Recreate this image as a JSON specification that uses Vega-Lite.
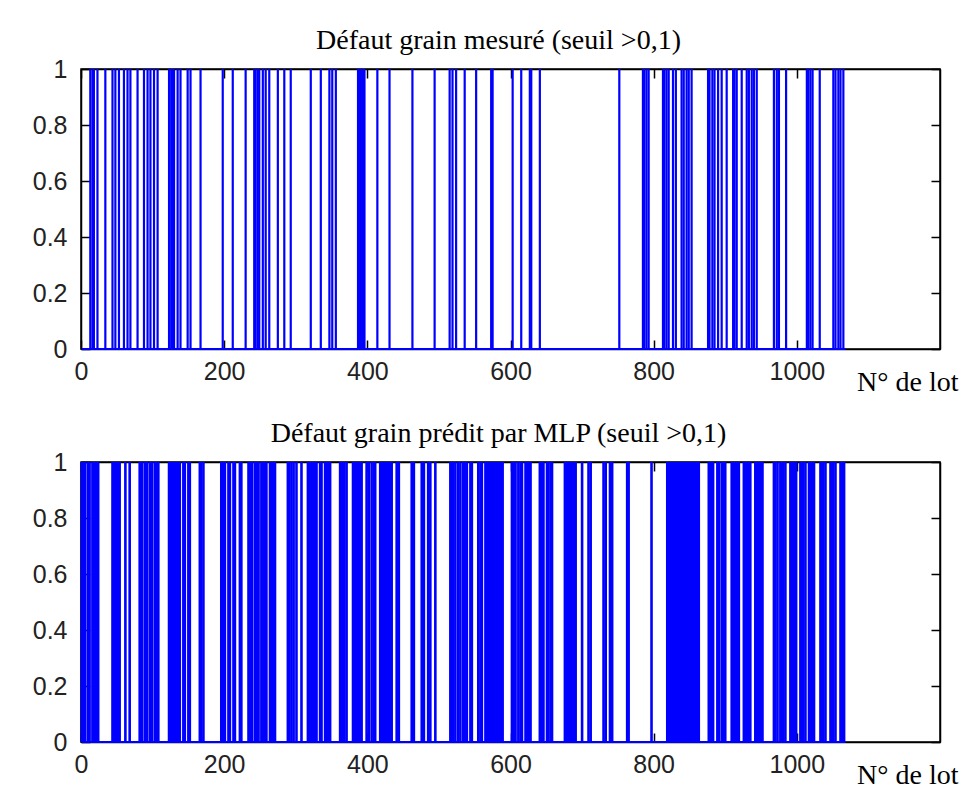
{
  "$schema": "https://vega.github.io/schema/vega-lite/v6.json",
  "padding": {"left": 31, "top": 26, "right": 5, "bottom": 5},
  "background": "white",
  "config": {
    "view": {"stroke": "#000", "strokeWidth": 1.5},
    "axis": {"domainColor": "#000", "domainWidth": 1.5, "tickColor": "#000", "tickWidth": 1.5, "grid": false, "labelColor": "#222", "labelFont": "Liberation Sans", "labelFontSize": 25, "labelFlush": false, "labelOverlap": false},
    "title": {"font": "Liberation Serif", "fontSize": 28, "fontWeight": "normal", "color": "#000", "anchor": "middle", "frame": "group", "baseline": "alphabetic", "offset": 2, "dx": -12}
  },
  "datasets": {
    "mesure": [{"lot":13},{"lot":16},{"lot":18},{"lot":23},{"lot":34},{"lot":44},{"lot":48},{"lot":53},{"lot":60},{"lot":65},{"lot":69},{"lot":79},{"lot":88},{"lot":93},{"lot":97},{"lot":102},{"lot":107},{"lot":123},{"lot":126},{"lot":128},{"lot":130},{"lot":135},{"lot":139},{"lot":149},{"lot":153},{"lot":167},{"lot":198},{"lot":212},{"lot":230},{"lot":242},{"lot":244},{"lot":247},{"lot":249},{"lot":254},{"lot":258},{"lot":263},{"lot":275},{"lot":284},{"lot":293},{"lot":321},{"lot":335},{"lot":347},{"lot":351},{"lot":356},{"lot":387},{"lot":389},{"lot":391},{"lot":394},{"lot":396},{"lot":414},{"lot":431},{"lot":463},{"lot":494},{"lot":515},{"lot":519},{"lot":524},{"lot":536},{"lot":552},{"lot":573},{"lot":575},{"lot":603},{"lot":615},{"lot":627},{"lot":629},{"lot":641},{"lot":752},{"lot":785},{"lot":787},{"lot":790},{"lot":793},{"lot":813},{"lot":815},{"lot":818},{"lot":821},{"lot":827},{"lot":831},{"lot":839},{"lot":842},{"lot":846},{"lot":849},{"lot":853},{"lot":876},{"lot":878},{"lot":882},{"lot":885},{"lot":890},{"lot":895},{"lot":902},{"lot":911},{"lot":913},{"lot":916},{"lot":923},{"lot":930},{"lot":933},{"lot":937},{"lot":940},{"lot":944},{"lot":968},{"lot":972},{"lot":975},{"lot":985},{"lot":1014},{"lot":1016},{"lot":1019},{"lot":1022},{"lot":1032},{"lot":1051},{"lot":1054},{"lot":1058},{"lot":1061},{"lot":1065}],
    "predit": [{"lot":1},{"lot":2},{"lot":4},{"lot":6},{"lot":10},{"lot":12},{"lot":16},{"lot":17},{"lot":19},{"lot":21},{"lot":23},{"lot":24},{"lot":44},{"lot":46},{"lot":48},{"lot":50},{"lot":52},{"lot":54},{"lot":62},{"lot":68},{"lot":82},{"lot":85},{"lot":89},{"lot":92},{"lot":96},{"lot":99},{"lot":103},{"lot":106},{"lot":108},{"lot":123},{"lot":124},{"lot":126},{"lot":128},{"lot":129},{"lot":131},{"lot":133},{"lot":135},{"lot":136},{"lot":138},{"lot":143},{"lot":145},{"lot":150},{"lot":152},{"lot":166},{"lot":168},{"lot":171},{"lot":196},{"lot":198},{"lot":201},{"lot":206},{"lot":208},{"lot":213},{"lot":215},{"lot":222},{"lot":224},{"lot":234},{"lot":236},{"lot":239},{"lot":243},{"lot":245},{"lot":247},{"lot":248},{"lot":252},{"lot":254},{"lot":256},{"lot":258},{"lot":259},{"lot":264},{"lot":266},{"lot":268},{"lot":270},{"lot":271},{"lot":289},{"lot":291},{"lot":294},{"lot":297},{"lot":301},{"lot":308},{"lot":317},{"lot":319},{"lot":321},{"lot":323},{"lot":325},{"lot":327},{"lot":329},{"lot":334},{"lot":336},{"lot":341},{"lot":343},{"lot":345},{"lot":348},{"lot":362},{"lot":364},{"lot":366},{"lot":368},{"lot":371},{"lot":380},{"lot":382},{"lot":384},{"lot":386},{"lot":388},{"lot":390},{"lot":392},{"lot":399},{"lot":402},{"lot":406},{"lot":409},{"lot":411},{"lot":418},{"lot":420},{"lot":421},{"lot":423},{"lot":425},{"lot":427},{"lot":428},{"lot":430},{"lot":432},{"lot":434},{"lot":441},{"lot":444},{"lot":462},{"lot":465},{"lot":476},{"lot":479},{"lot":485},{"lot":488},{"lot":495},{"lot":516},{"lot":518},{"lot":520},{"lot":523},{"lot":527},{"lot":530},{"lot":534},{"lot":536},{"lot":539},{"lot":544},{"lot":546},{"lot":555},{"lot":558},{"lot":560},{"lot":565},{"lot":567},{"lot":569},{"lot":571},{"lot":573},{"lot":575},{"lot":577},{"lot":579},{"lot":581},{"lot":583},{"lot":585},{"lot":587},{"lot":589},{"lot":602},{"lot":605},{"lot":607},{"lot":611},{"lot":614},{"lot":616},{"lot":621},{"lot":623},{"lot":626},{"lot":628},{"lot":641},{"lot":644},{"lot":646},{"lot":651},{"lot":653},{"lot":656},{"lot":658},{"lot":676},{"lot":678},{"lot":680},{"lot":682},{"lot":684},{"lot":686},{"lot":688},{"lot":690},{"lot":691},{"lot":700},{"lot":709},{"lot":712},{"lot":730},{"lot":733},{"lot":739},{"lot":742},{"lot":763},{"lot":765},{"lot":797},{"lot":819},{"lot":821},{"lot":823},{"lot":825},{"lot":827},{"lot":829},{"lot":830},{"lot":832},{"lot":834},{"lot":836},{"lot":838},{"lot":840},{"lot":842},{"lot":844},{"lot":846},{"lot":848},{"lot":850},{"lot":852},{"lot":854},{"lot":856},{"lot":858},{"lot":860},{"lot":862},{"lot":863},{"lot":877},{"lot":880},{"lot":883},{"lot":889},{"lot":891},{"lot":895},{"lot":897},{"lot":900},{"lot":909},{"lot":911},{"lot":913},{"lot":915},{"lot":917},{"lot":919},{"lot":926},{"lot":928},{"lot":930},{"lot":932},{"lot":935},{"lot":942},{"lot":944},{"lot":946},{"lot":948},{"lot":950},{"lot":952},{"lot":968},{"lot":970},{"lot":973},{"lot":977},{"lot":979},{"lot":981},{"lot":984},{"lot":991},{"lot":993},{"lot":995},{"lot":997},{"lot":999},{"lot":1005},{"lot":1007},{"lot":1009},{"lot":1012},{"lot":1017},{"lot":1019},{"lot":1021},{"lot":1024},{"lot":1033},{"lot":1035},{"lot":1037},{"lot":1040},{"lot":1047},{"lot":1049},{"lot":1051},{"lot":1054},{"lot":1061},{"lot":1063},{"lot":1066}],
    "etendue": [{"premier": 1, "dernier": 1068}]
  },
  "spacing": 113,
  "bounds": "flush",
  "vconcat": [
    {
      "width": 859, "height": 280,
      "title": {"text": "Défaut grain mesuré (seuil >0,1)"},
      "layer": [
        {
          "data": {"name": "mesure"},
          "mark": {"type": "rule", "color": "#0000ff", "strokeWidth": 2.2},
          "encoding": {
            "x": {"field": "lot", "type": "quantitative", "scale": {"domain": [0, 1200], "nice": false, "zero": false},
                  "axis": {"orient": "bottom", "values": [0, 200, 400, 600, 800, 1000], "format": "d", "tickSize": -9, "labelPadding": 19, "title": "N° de lot", "titleFont": "Liberation Serif", "titleFontSize": 28, "titleFontWeight": "normal", "titleColor": "#000", "titleAlign": "right", "titleX": 877, "titleY": 41, "titleBaseline": "alphabetic"}},
            "y": {"datum": 0, "type": "quantitative", "scale": {"domain": [0, 1], "nice": false},
                  "axis": {"orient": "left", "values": [0, 0.2, 0.4, 0.6, 0.8, 1], "format": "~g", "tickSize": -9, "labelPadding": 23, "title": null}},
            "y2": {"datum": 1}
          }
        },
        {
          "data": {"name": "etendue"},
          "mark": {"type": "rule", "color": "#0000ff", "strokeWidth": 2},
          "encoding": {
            "x": {"field": "premier", "type": "quantitative", "scale": {"domain": [0, 1200], "nice": false, "zero": false},
                  "axis": {"orient": "top", "values": [0, 200, 400, 600, 800, 1000], "tickSize": -9, "labels": false, "title": null}},
            "x2": {"field": "dernier"},
            "y": {"datum": 0, "type": "quantitative", "scale": {"domain": [0, 1], "nice": false},
                  "axis": {"orient": "right", "values": [0, 0.2, 0.4, 0.6, 0.8, 1], "tickSize": -9, "labels": false, "title": null}}
          }
        }
      ],
      "resolve": {"axis": {"x": "independent", "y": "independent"}}
    },
    {
      "width": 859, "height": 280,
      "title": {"text": "Défaut grain prédit par MLP (seuil >0,1)"},
      "layer": [
        {
          "data": {"name": "predit"},
          "mark": {"type": "rule", "color": "#0000ff", "strokeWidth": 2.6},
          "encoding": {
            "x": {"field": "lot", "type": "quantitative", "scale": {"domain": [0, 1200], "nice": false, "zero": false},
                  "axis": {"orient": "bottom", "values": [0, 200, 400, 600, 800, 1000], "format": "d", "tickSize": -9, "labelPadding": 19, "title": "N° de lot", "titleFont": "Liberation Serif", "titleFontSize": 28, "titleFontWeight": "normal", "titleColor": "#000", "titleAlign": "right", "titleX": 877, "titleY": 41, "titleBaseline": "alphabetic"}},
            "y": {"datum": 0, "type": "quantitative", "scale": {"domain": [0, 1], "nice": false},
                  "axis": {"orient": "left", "values": [0, 0.2, 0.4, 0.6, 0.8, 1], "format": "~g", "tickSize": -9, "labelPadding": 23, "title": null}},
            "y2": {"datum": 1}
          }
        },
        {
          "data": {"name": "etendue"},
          "mark": {"type": "rule", "color": "#0000ff", "strokeWidth": 2},
          "encoding": {
            "x": {"field": "premier", "type": "quantitative", "scale": {"domain": [0, 1200], "nice": false, "zero": false},
                  "axis": {"orient": "top", "values": [0, 200, 400, 600, 800, 1000], "tickSize": -9, "labels": false, "title": null}},
            "x2": {"field": "dernier"},
            "y": {"datum": 0, "type": "quantitative", "scale": {"domain": [0, 1], "nice": false},
                  "axis": {"orient": "right", "values": [0, 0.2, 0.4, 0.6, 0.8, 1], "tickSize": -9, "labels": false, "title": null}}
          }
        }
      ],
      "resolve": {"axis": {"x": "independent", "y": "independent"}}
    }
  ]
}
